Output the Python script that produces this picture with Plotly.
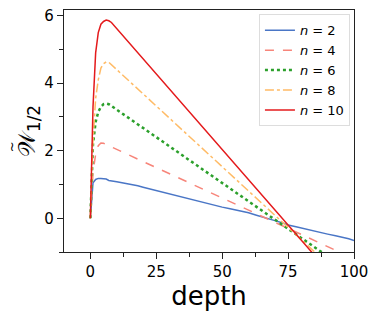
import plotly.graph_objects as go

# n = 2 (slightly noisy, bends gently)
depth_n2 = [0, 1, 2, 3, 4, 5, 6, 7, 8, 10, 12, 15, 18, 20, 23, 25, 28, 30, 33, 35, 38, 40,
            43, 45, 48, 50, 53, 55, 58, 60, 63, 65, 68, 70, 73, 75, 78, 80, 83, 85, 88,
            90, 93, 95, 98, 100]
vals_n2 = [0.0, 1.05, 1.15, 1.18, 1.18, 1.18, 1.16, 1.12, 1.10, 1.08, 1.05, 1.01, 0.96, 0.92,
           0.86, 0.81, 0.76, 0.72, 0.66, 0.62, 0.56, 0.52, 0.46, 0.42, 0.37, 0.33, 0.28, 0.25,
           0.19, 0.16, 0.09, 0.05, -0.02, -0.07, -0.14, -0.20, -0.25, -0.29, -0.33, -0.37,
           -0.43, -0.47, -0.52, -0.55, -0.61, -0.66]

depth_n4 = [0, 1, 2, 3, 4, 5, 100]
vals_n4 = [0.0, 1.35, 1.90, 2.15, 2.23, 2.22, -1.20]

depth_n6 = [0, 1, 2, 3, 4, 5, 6, 7, 100]
vals_n6 = [0.0, 2.20, 2.85, 3.15, 3.30, 3.38, 3.40, 3.38, -1.67]

depth_n8 = [0, 1, 2, 3, 4, 5, 6, 7, 100]
vals_n8 = [0.0, 2.30, 3.55, 4.10, 4.45, 4.58, 4.63, 4.62, -2.07]

depth_n10 = [0, 1, 2, 3, 4, 5, 6, 7, 8, 100]
vals_n10 = [0.0, 3.30, 4.90, 5.50, 5.75, 5.83, 5.87, 5.85, 5.80, -2.44]

series = [
    ("<i>n</i> = 2", depth_n2, vals_n2, "#4a76c6", "solid", 1.5),
    ("<i>n</i> = 4", depth_n4, vals_n4, "#f7857a", "dash", 1.5),
    ("<i>n</i> = 6", depth_n6, vals_n6, "#2ca02c", "dot", 2.5),
    ("<i>n</i> = 8", depth_n8, vals_n8, "#ffbb66", "dashdot", 1.5),
    ("<i>n</i> = 10", depth_n10, vals_n10, "#e41a1c", "solid", 1.5),
]

fig = go.Figure()
for name, xs, ys, color, dash, width in series:
    fig.add_trace(go.Scatter(
        x=xs, y=ys, mode="lines", name=name,
        line=dict(color=color, dash=dash, width=width),
    ))

axis_style = dict(
    showline=True, linecolor="#222", linewidth=1.2, mirror=True,
    ticks="outside", ticklen=6, tickwidth=1, tickcolor="#222",
    showgrid=False, zeroline=False, automargin=False,
    ticklabeloverflow="allow",
    tickfont=dict(family="DejaVu Sans", size=15, color="black"),
)

# page body keeps its default 8px margin, so the figure is sized/offset for that
fig.update_layout(
    width=371, height=308,
    margin=dict(l=56, r=25, t=2, b=64),
    plot_bgcolor="white", paper_bgcolor="white",
    font=dict(family="DejaVu Sans", color="black"),
    xaxis=dict(
        range=[-10, 100], tickvals=[0, 25, 50, 75, 100],
        minor=dict(dtick=12.5, tick0=0, ticks="outside", ticklen=4, tickcolor="#222", showgrid=False),
        title=dict(text="depth", font=dict(size=26), standoff=2),
        **axis_style,
    ),
    yaxis=dict(
        range=[-1, 6.17], tickvals=[0, 2, 4, 6],
        minor=dict(dtick=1, tick0=0, ticks="outside", ticklen=4, tickcolor="#222", showgrid=False),
        title=dict(text="𝒲<sub>1/2</sub>", font=dict(size=24), standoff=0),
        **axis_style,
    ),
    legend=dict(
        x=0.986, y=0.982, xanchor="right", yanchor="top",
        bgcolor="white", bordercolor="#dddddd", borderwidth=1,
        font=dict(family="DejaVu Sans", size=13),
        tracegroupgap=0, itemwidth=30,
    ),
    annotations=[dict(
        text="~", xref="paper", yref="paper", x=-0.178, y=0.434,
        textangle=-90, showarrow=False, font=dict(size=13), borderpad=0,
        xanchor="center", yanchor="middle",
    )],
)

fig.write_html("out.html")
